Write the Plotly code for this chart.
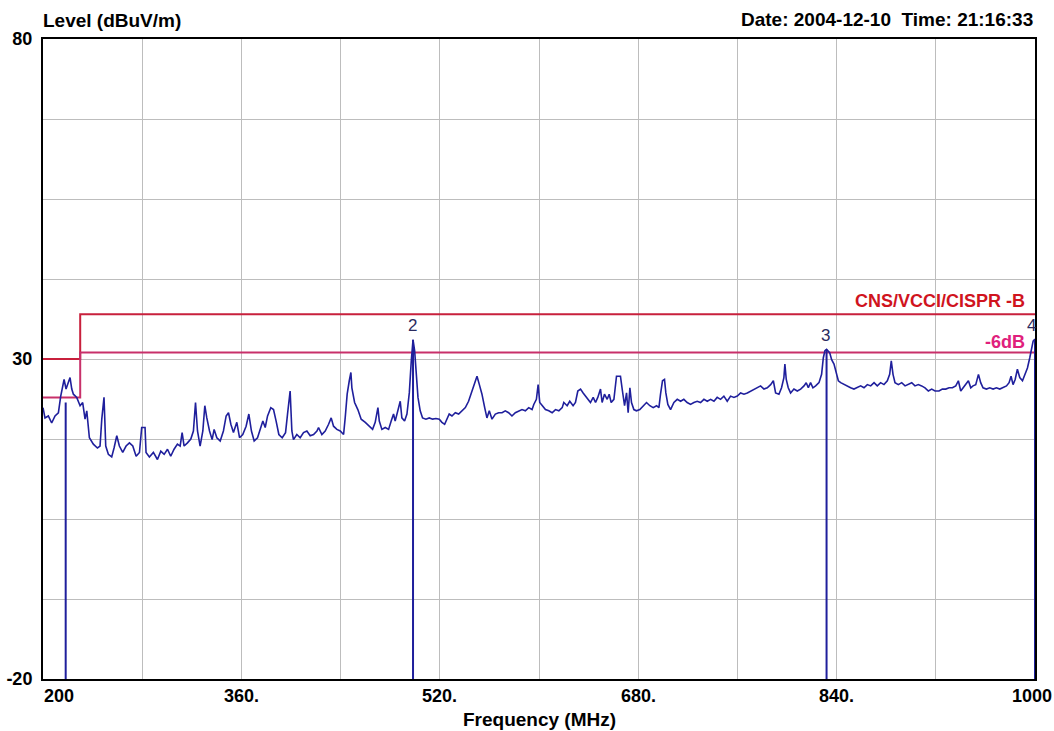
import plotly.graph_objects as go

# ---------------- data ----------------
freq_mhz = [
    200.0, 201.6, 204.3, 207.0, 209.7, 212.4, 214.3, 215.9, 217.0, 218.6, 220.5, 221.8, 223.2, 224.5,
    227.2, 229.9, 232.0, 233.9, 235.3, 237.4, 240.6, 243.9, 246.0, 247.4, 249.2, 250.6, 252.7, 255.4,
    257.3, 259.5, 261.6, 264.3, 267.0, 269.7, 272.4, 275.1, 277.8, 279.6, 282.3, 283.1, 285.8, 289.0,
    292.3, 295.0, 297.7, 300.4, 303.0, 305.7, 308.4, 310.6, 312.2, 313.8, 316.5, 319.2, 321.3, 323.0,
    324.6, 326.7, 328.9, 330.5, 332.1, 334.3, 336.4, 338.0, 340.2, 342.9, 345.5, 347.7, 349.6, 351.5,
    353.6, 356.3, 358.5, 361.1, 363.8, 366.0, 368.1, 370.3, 373.0, 375.1, 377.3, 379.2, 381.1, 383.7,
    385.9, 388.0, 390.2, 392.9, 395.6, 397.2,
    399.3, 400.7, 402.0, 404.7, 407.4, 410.1, 412.8, 415.5, 418.2, 420.9, 422.2, 424.9, 427.6, 430.3,
    432.4, 434.3, 437.0, 439.7, 442.4, 443.7, 445.3, 447.0, 448.3, 449.1, 451.3, 453.9, 456.6, 459.9,
    463.1, 465.8, 467.9, 470.1, 471.2, 473.3, 476.0, 478.7, 480.8, 482.7, 484.0, 486.2, 488.1, 489.4,
    491.6, 493.5, 495.4, 497.0, 498.4, 499.7, 501.0, 502.4, 504.2, 506.1, 508.8, 511.5, 514.2, 516.9,
    519.6, 521.7, 523.9, 525.8, 527.6, 529.8, 532.5, 535.2, 537.9, 540.6, 543.2, 545.4, 547.5, 550.0,
    551.9, 554.0, 556.2, 558.0, 559.9, 562.1, 564.8, 567.5, 570.2, 572.8, 575.5, 578.2, 580.9, 583.6,
    586.3, 589.0, 591.7, 594.4,
    595.8, 597.9, 599.3, 600.6, 602.5, 605.2, 607.9, 610.6, 613.3, 616.0, 618.7, 620.0, 622.7, 624.8,
    627.5, 629.4, 631.3, 633.5, 635.6, 637.5, 639.4, 641.5, 643.7, 645.6, 647.4, 649.6, 650.9, 652.8,
    655.0, 656.6, 658.2, 660.4, 662.5, 665.7, 667.3, 669.0, 670.6, 671.9, 673.3, 674.6, 676.5, 678.6,
    681.3, 684.0, 686.7, 689.4, 692.1, 694.8, 696.7, 698.0, 699.6, 701.2, 702.3, 703.9, 706.1, 708.8,
    711.5, 714.2, 716.8, 719.5, 722.2, 724.9, 727.6, 730.3, 733.0, 735.7, 738.4, 741.1, 743.7, 746.4,
    749.1, 751.8, 754.5, 757.2, 759.9, 762.6, 765.3, 768.0, 770.6, 773.3, 776.0, 778.7, 781.4, 784.1,
    786.8, 789.0,
    790.8, 793.5, 795.6, 797.5, 798.3, 799.4, 801.0, 802.9, 805.6, 808.3, 811.0, 813.7, 815.5, 817.2,
    819.0, 820.9, 823.1, 825.8, 827.9, 829.3, 830.6, 831.9, 834.4, 836.0, 837.9, 839.8, 841.4, 843.3,
    846.0, 848.6, 851.3, 854.0, 856.7, 859.4, 862.1, 864.8, 867.5, 870.2, 872.8, 875.5, 878.2, 880.9,
    882.8, 884.1, 885.5, 887.1, 889.8, 892.5, 895.2, 897.9, 900.6, 903.2, 905.9, 908.6, 911.3, 914.0,
    916.7, 919.4, 922.6, 925.3, 928.0, 930.7, 933.4, 936.1, 938.2, 940.1, 942.0, 944.1, 946.3, 948.2,
    950.0, 952.2, 954.4, 956.2, 958.1, 960.8, 963.5, 966.2, 968.9, 971.6, 974.3, 977.0, 979.1, 980.7,
    982.3, 984.0, 985.8, 987.7, 989.9, 992.0, 993.9, 995.8, 997.4, 998.5, 1000.0,
]
level_dbuv = [
    22.4, 20.8, 21.1, 20.0, 21.1, 21.6, 24.2, 26.0, 26.8, 25.3, 26.6, 27.1, 25.3, 24.5,
    24.0, 22.7, 23.2, 20.6, 21.9, 17.7, 16.7, 16.1, 16.4, 20.6, 24.0, 16.4, 15.1, 14.7,
    16.1, 18.0, 16.4, 15.4, 16.4, 16.9, 16.4, 14.8, 15.4, 19.3, 19.3, 15.4, 14.7, 15.4,
    14.3, 15.6, 15.1, 15.9, 14.8, 15.9, 16.7, 16.4, 18.5, 16.4, 16.9, 17.5, 18.75, 23.2,
    18.75, 16.4, 18.75, 22.7, 20.8, 18.75, 17.4, 19.0, 17.7, 17.2, 18.75, 21.1, 21.6, 19.8,
    18.5, 20.1, 17.7, 18.2, 19.5, 21.4, 18.75, 17.2, 17.7, 19.0, 20.3, 19.3, 21.1, 22.4,
    22.1, 20.3, 18.2, 17.7, 18.5, 21.4,
    25.0, 18.75, 17.4, 18.2, 17.7, 18.5, 18.75, 18.0, 18.2, 18.75, 19.3, 18.2, 18.75, 19.8,
    20.8, 19.5, 19.0, 18.75, 18.2, 20.8, 24.5, 26.6, 27.9, 25.5, 23.2, 22.1, 20.6, 20.1,
    19.5, 19.0, 20.1, 22.4, 20.3, 19.0, 19.3, 19.0, 20.3, 21.4, 20.3, 21.9, 23.4, 20.8,
    20.3, 21.4, 24.7, 29.7, 33.0, 31.3, 28.1, 24.0, 21.9, 20.8, 20.6, 20.8, 20.6, 20.7,
    20.6, 20.1, 19.8, 20.6, 21.4, 21.1, 21.6, 21.4, 21.9, 22.4, 23.4, 24.7, 26.0, 27.3,
    26.0, 24.5, 22.4, 20.8, 21.9, 20.6, 21.4, 21.6, 21.6, 21.9, 21.6, 21.1, 21.6, 21.9,
    22.1, 21.9, 22.4, 22.1,
    22.9, 23.7, 26.0, 23.2, 22.7, 22.1, 21.9, 21.6, 22.1, 21.9, 22.4, 23.2, 22.7, 23.4,
    22.7, 23.2, 25.0, 25.3, 24.7, 24.2, 23.7, 23.2, 24.0, 23.2, 24.0, 25.3, 23.2, 24.5,
    23.7, 24.5, 23.2, 23.7, 27.3, 27.3, 25.0, 22.7, 24.7, 21.6, 25.5, 23.2, 22.1, 21.9,
    22.1, 22.7, 23.2, 22.7, 22.4, 22.7, 22.4, 24.5, 26.6, 26.8, 24.7, 22.9, 22.1, 23.2,
    23.7, 23.4, 23.7, 23.2, 22.9, 23.2, 23.4, 23.2, 23.7, 23.4, 23.7, 23.4, 24.0, 23.7,
    24.2, 23.4, 24.2, 24.0, 24.2, 24.7, 24.5, 24.7, 25.0, 25.3, 25.5, 25.8, 25.3, 25.5,
    26.0, 26.6,
    24.7, 24.5, 25.5, 27.1, 29.2, 26.8, 25.5, 24.7, 25.3, 25.0, 25.3, 25.8, 26.3, 25.5,
    26.3, 25.5, 25.8, 26.3, 27.6, 30.2, 31.3, 31.5, 31.0, 29.9, 29.2, 27.9, 26.6, 26.3,
    26.0, 25.8, 25.5, 25.3, 25.5, 25.8, 25.5, 26.0, 25.8, 26.3, 25.8, 26.3, 26.0, 26.6,
    27.6, 29.7, 27.6, 26.3, 26.0, 26.3, 25.8, 26.0, 26.3, 25.8, 26.0, 25.8, 25.5, 25.0,
    25.3, 25.0, 25.0, 25.3, 25.3, 25.5, 25.5, 25.8, 26.6, 25.0, 25.5, 26.0, 26.6, 25.5,
    25.8, 26.0, 27.6, 26.3, 25.5, 25.3, 25.5, 25.3, 25.5, 25.3, 25.5, 25.8, 26.3, 27.3,
    26.0, 26.8, 28.4, 27.1, 26.6, 27.6, 28.6, 30.2, 31.8, 32.8, 33.1,
]

# Limit lines (CNS / VCCI / CISPR class B) and the -6 dB margin
limit_freq = [200, 230, 1000]
limit_level = [30, 37, 37]
margin_level = [24, 31, 31]
limit_name = "CNS/VCCI/CISPR -B"
margin_name = "-6dB"

# Markers
marker_id = ["1", "2", "3", "4"]
marker_freq = [218.3, 498.4, 831.9, 1000.0]
marker_level = [23.2, 33.0, 31.5, 33.1]
marker_label_shown = [False, True, True, True]

# Axes
x_tick_vals = [200, 360, 520, 680, 840, 1000]
x_tick_text = ["200", "360.", "520.", "680.", "840.", "1000"]
y_grid_vals = [-20, -7.5, 5, 17.5, 30, 42.5, 55, 67.5, 80]
y_tick_text = ["-20", "", "", "", "30", "", "", "", "80"]

y_title = "Level (dBuV/m)"
x_title = "Frequency (MHz)"
stamp = "Date: 2004-12-10  Time: 21:16:33"

# ---------------- figure ----------------
FONT = "Liberation Sans, Arial, sans-serif"
TRACE = "#1f1f9c"
LIMIT_C = "#c8203c"
MARGIN_C = "#c8306a"

fig = go.Figure()

fig.add_trace(go.Scatter(x=limit_freq, y=limit_level, mode="lines", line_shape="hv",
                         line=dict(color=LIMIT_C, width=2), hoverinfo="skip"))
fig.add_trace(go.Scatter(x=limit_freq, y=margin_level, mode="lines", line_shape="hv",
                         line=dict(color=MARGIN_C, width=2), hoverinfo="skip"))

fig.add_trace(go.Scatter(x=freq_mhz, y=level_dbuv, mode="lines",
                         line=dict(color=TRACE, width=1.6)))

mx, my = [], []
for f, v in zip(marker_freq, marker_level):
    mx += [f, f, None]
    my += [v, -20, None]
fig.add_trace(go.Scatter(x=mx, y=my, mode="lines", line=dict(color=TRACE, width=2),
                         hoverinfo="skip"))

annotations = []
# x tick labels
for i, (v, t) in enumerate(zip(x_tick_vals, x_tick_text)):
    anchor = "left" if i == 0 else "center"
    shift = -1 if i == 0 else (-3 if i == len(x_tick_vals) - 1 else 0)
    annotations.append(dict(x=v, xref="x", y=0, yref="paper", text=t, showarrow=False,
                            xanchor=anchor, yanchor="middle", xshift=shift, yshift=-17,
                            font=dict(family=FONT, size=18, color="black", weight="bold")))
# titles
annotations.append(dict(x=0, xref="paper", y=1, yref="paper", text=y_title, showarrow=False,
                        xanchor="left", yanchor="middle", xshift=-2, yshift=19,
                        font=dict(family=FONT, size=19, color="black", weight="bold")))
annotations.append(dict(x=1, xref="paper", y=1, yref="paper", text=stamp, showarrow=False,
                        xanchor="right", yanchor="middle", xshift=0, yshift=20,
                        font=dict(family=FONT, size=19, color="black", weight="bold")))
annotations.append(dict(x=0.5, xref="paper", y=0, yref="paper", text=x_title, showarrow=False,
                        xanchor="center", yanchor="middle", yshift=-40,
                        font=dict(family=FONT, size=19, color="black", weight="bold")))
# limit labels
annotations.append(dict(x=1, xref="paper", y=limit_level[-1], yref="y", text=limit_name,
                        showarrow=False, xanchor="right", yanchor="middle", xshift=-8, yshift=13,
                        font=dict(family=FONT, size=18, color="#d0141e", weight="bold")))
annotations.append(dict(x=1, xref="paper", y=margin_level[-1], yref="y", text=margin_name,
                        showarrow=False, xanchor="right", yanchor="middle", xshift=-8, yshift=11,
                        font=dict(family=FONT, size=18, color="#e0207c", weight="bold")))
# marker labels
for mid, f, v, show in zip(marker_id, marker_freq, marker_level, marker_label_shown):
    if not show:
        continue
    annotations.append(dict(x=f, xref="x", y=v, yref="y", text=mid, showarrow=False,
                            xanchor="center", yanchor="middle", yshift=14,
                            xshift=-4 if f >= 1000 else -1,
                            font=dict(family=FONT, size=17, color="#2a2a5e")))

fig.update_layout(
    width=1054, height=731,
    margin=dict(l=43, r=19, t=39, b=52, autoexpand=False),
    plot_bgcolor="white", paper_bgcolor="white",
    showlegend=False,
    annotations=annotations,
    xaxis=dict(range=[200, 1000], tick0=200, dtick=80, showgrid=True, gridcolor="#bdbdbd",
               gridwidth=1, showticklabels=False, zeroline=False, showline=True,
               linecolor="black", linewidth=2, mirror=True, ticks="", automargin=False),
    yaxis=dict(range=[-20, 80], tickmode="array", tickvals=y_grid_vals, ticktext=y_tick_text,
               showgrid=True, gridcolor="#bdbdbd", gridwidth=1, zeroline=False, showline=True,
               linecolor="black", linewidth=2, mirror=True, ticks="", ticklabelstandoff=5,
               automargin=False,
               tickfont=dict(family=FONT, size=18, color="black", weight="bold")),
)

fig.write_html("out.html")
